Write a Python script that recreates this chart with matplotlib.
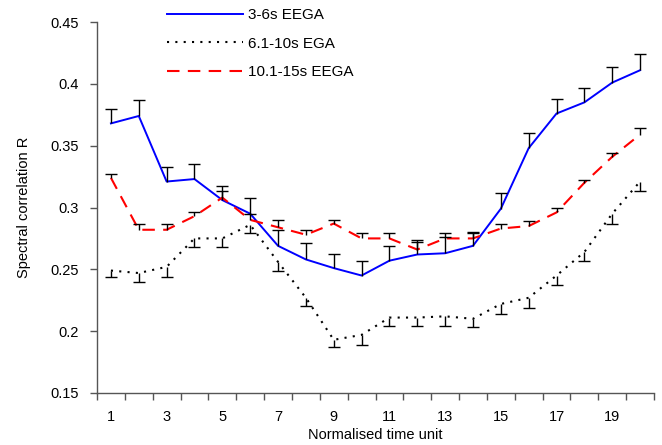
import numpy as np
import matplotlib
matplotlib.use("Agg")
import matplotlib.pyplot as plt

plt.rcParams['font.family'] = ['Liberation Sans', 'DejaVu Sans']

# --- data ---
units = np.arange(1, 21)
odd_labels = [str(i) for i in range(1, 21, 2)]

eega_3_6 = [0.368, 0.374, 0.321, 0.323, 0.306, 0.295, 0.269, 0.258, 0.251, 0.245,
            0.257, 0.262, 0.263, 0.269, 0.299, 0.348, 0.376, 0.385, 0.401, 0.411]
eega_3_6_err = [0.012, 0.013, 0.012, 0.012, 0.011, 0.013, 0.013, 0.013, 0.011, 0.012,
                0.012, 0.010, 0.013, 0.010, 0.013, 0.012, 0.012, 0.012, 0.013, 0.013]

ega_6_10 = [0.249, 0.247, 0.252, 0.275, 0.275, 0.286, 0.256, 0.227, 0.193, 0.197,
            0.211, 0.211, 0.212, 0.210, 0.222, 0.227, 0.245, 0.264, 0.295, 0.321]
ega_6_10_err = [0.005, 0.007, 0.008, 0.007, 0.007, 0.007, 0.007, 0.007, 0.006, 0.008,
                0.007, 0.007, 0.008, 0.007, 0.008, 0.008, 0.008, 0.007, 0.008, 0.008]

eega_10_15 = [0.324, 0.282, 0.282, 0.293, 0.308, 0.290, 0.284, 0.278, 0.287, 0.275,
              0.275, 0.266, 0.275, 0.275, 0.283, 0.285, 0.296, 0.320, 0.341, 0.359]
eega_10_15_err = [0.003, 0.005, 0.005, 0.003, 0.005, 0.005, 0.006, 0.004, 0.003, 0.004,
                  0.004, 0.008, 0.004, 0.005, 0.004, 0.004, 0.004, 0.002, 0.003, 0.005]


def one_sided_err(ax, x, y, err, sign):
    # excel style: stem plus a single cap at the far end
    y = np.asarray(y)
    end = y + sign * np.asarray(err)
    ax.vlines(x, y, end, color="black", lw=1.0, zorder=3)
    ax.plot(x, end, ls="none", marker="_", ms=8, mew=1.0, color="black", zorder=3)


fig = plt.figure(figsize=(6.62, 4.45), dpi=100)
ax = fig.add_axes([97 / 662, 52 / 445, 557 / 662, 371 / 445])

l1, = ax.plot(units, eega_3_6, color="#0000ff", lw=1.4, label="3-6s EEGA", zorder=2)
l2, = ax.plot(units, ega_6_10, color="black", lw=1.5, ls=(0, (1, 3)),
              label="6.1-10s EGA", zorder=2)
l3, = ax.plot(units, eega_10_15, color="#ff0000", lw=1.5, ls=(0, (6, 4)),
              label="10.1-15s EEGA", zorder=2)

one_sided_err(ax, units, eega_3_6, eega_3_6_err, 1)
one_sided_err(ax, units, ega_6_10, ega_6_10_err, -1)
one_sided_err(ax, units, eega_10_15, eega_10_15_err, 1)

ax.set_xlim(0.5, 20.5)
ax.set_ylim(0.15, 0.45)
ax.set_yticks([0.15, 0.2, 0.25, 0.3, 0.35, 0.4, 0.45])
ax.set_yticklabels(["0.15", "0.2", "0.25", "0.3", "0.35", "0.4", "0.45"])

# category boundary ticks, labels on odd categories
ax.set_xticks(np.arange(0.5, 21, 1))
ax.set_xticklabels([])
ax.set_xticks(np.arange(1, 21, 2), minor=True)
ax.set_xticklabels(odd_labels, minor=True)
ax.tick_params(axis="x", which="major", direction="out", length=5, width=1, color="#555555")
ax.tick_params(axis="x", which="minor", length=0, pad=12, labelsize=10.5)
ax.tick_params(axis="y", direction="out", length=5, width=1, color="#555555", pad=8, labelsize=10.5)

for s in ["top", "right"]:
    ax.spines[s].set_visible(False)
for s in ["left", "bottom"]:
    ax.spines[s].set_color("#555555")
    ax.spines[s].set_linewidth(1.0)

ax.set_xlabel("Normalised time unit", fontsize=10.5, labelpad=3)
ax.set_ylabel("Spectral correlation R", fontsize=10.5, labelpad=14)

fig.legend(handles=[l1, l2, l3], loc="upper left", bbox_to_anchor=(167 / 662, 1 - 8 / 445),
           frameon=False, fontsize=11, handlelength=5, handletextpad=0.3,
           labelspacing=0.95, borderpad=0, borderaxespad=0)

fig.savefig("out.png", dpi=100)
